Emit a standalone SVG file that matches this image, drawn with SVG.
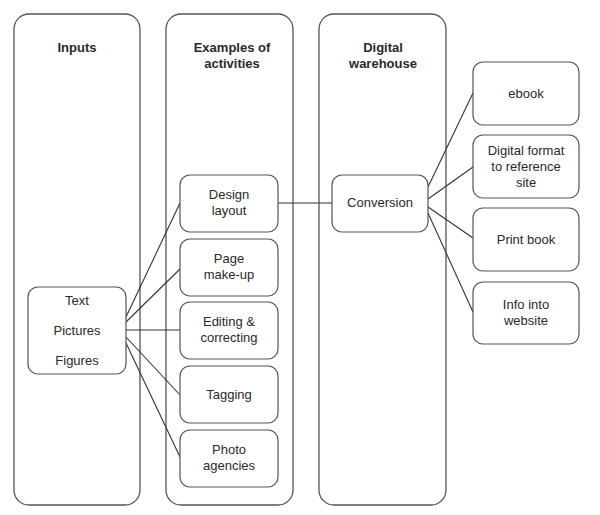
<svg xmlns="http://www.w3.org/2000/svg" width="600" height="515" viewBox="0 0 600 515">
<style>
.col{fill:#fff;stroke:#555;stroke-width:1.3}
.box{fill:#fff;stroke:#555;stroke-width:1.2}
.t{font-family:"Liberation Sans",Arial,sans-serif;font-size:13px;fill:#2a2a2a;text-anchor:middle}
.h{font-weight:bold}
.c{stroke:#333;stroke-width:1.1;fill:none}
</style>
<rect width="600" height="515" fill="#fff"/>
<g id="col-inputs"><rect class="col" x="14" y="14" width="126" height="491" rx="15"/><text class="t h" x="77" y="52">Inputs</text></g>
<g id="col-activities"><rect class="col" x="166" y="14" width="127" height="491" rx="15"/><text class="t h" x="232" y="52">Examples of</text><text class="t h" x="232" y="68">activities</text></g>
<g id="col-warehouse"><rect class="col" x="319" y="14" width="127" height="491" rx="15"/><text class="t h" x="383" y="52">Digital</text><text class="t h" x="383" y="68">warehouse</text></g>
<g id="connectors">
<line class="c" x1="126" y1="317" x2="180" y2="203"/>
<line class="c" x1="126" y1="322" x2="180" y2="269"/>
<line class="c" x1="126" y1="330" x2="180" y2="330"/>
<line class="c" x1="126" y1="337" x2="180" y2="395"/>
<line class="c" x1="126" y1="343" x2="180" y2="457"/>
<line class="c" x1="278" y1="203" x2="332" y2="203"/>
<line class="c" x1="428" y1="187" x2="473" y2="93"/>
<line class="c" x1="428" y1="199" x2="473" y2="167"/>
<line class="c" x1="428" y1="207" x2="473" y2="238"/>
<line class="c" x1="428" y1="213" x2="473" y2="312"/>
</g>
<g id="inputs"><rect class="box" x="28" y="287" width="98" height="87" rx="10"/><text class="t" x="77" y="305">Text</text><text class="t" x="77" y="335">Pictures</text><text class="t" x="77" y="365">Figures</text></g>
<g id="design-layout"><rect class="box" x="180" y="175" width="98" height="57" rx="10"/><text class="t" x="229" y="199">Design</text><text class="t" x="229" y="215">layout</text></g>
<g id="page-make-up"><rect class="box" x="180" y="239" width="98" height="57" rx="10"/><text class="t" x="229" y="263">Page</text><text class="t" x="229" y="279">make-up</text></g>
<g id="editing"><rect class="box" x="180" y="302" width="98" height="57" rx="10"/><text class="t" x="229" y="326">Editing &amp;</text><text class="t" x="229" y="342">correcting</text></g>
<g id="tagging"><rect class="box" x="180" y="366" width="98" height="57" rx="10"/><text class="t" x="229" y="399">Tagging</text></g>
<g id="photo-agencies"><rect class="box" x="180" y="430" width="98" height="57" rx="10"/><text class="t" x="229" y="454">Photo</text><text class="t" x="229" y="470">agencies</text></g>
<g id="conversion"><rect class="box" x="332" y="175" width="96" height="57" rx="10"/><text class="t" x="380" y="207">Conversion</text></g>
<g id="ebook"><rect class="box" x="473" y="62" width="106" height="63" rx="10"/><text class="t" x="526" y="98">ebook</text></g>
<g id="digital-format"><rect class="box" x="473" y="135" width="106" height="63" rx="10"/><text class="t" x="526" y="155">Digital format</text><text class="t" x="526" y="171">to reference</text><text class="t" x="526" y="187">site</text></g>
<g id="print-book"><rect class="box" x="473" y="208" width="106" height="63" rx="10"/><text class="t" x="526" y="244">Print book</text></g>
<g id="info-website"><rect class="box" x="473" y="282" width="106" height="62" rx="10"/><text class="t" x="526" y="309">Info into</text><text class="t" x="526" y="325">website</text></g>
</svg>
